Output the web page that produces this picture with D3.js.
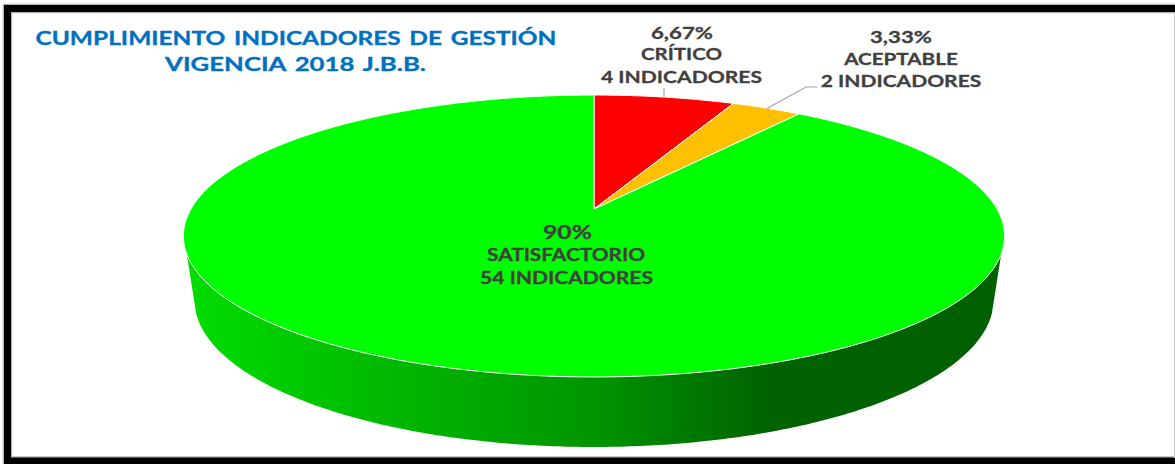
<!DOCTYPE html>
<html>
<head>
<meta charset="utf-8">
<script src="https://cdn.jsdelivr.net/npm/d3@7"></script>
<style>
  html, body { margin: 0; padding: 0; background: #fff; overflow: hidden; }
  text { font-family: Lato, "Open Sans", sans-serif; font-weight: 700; }
</style>
</head>
<body>
<svg id="chart" width="1175" height="464"></svg>
<script>
// Pie data, clockwise from 12 o'clock
const categories = ['CRÍTICO', 'ACEPTABLE', 'SATISFACTORIO'];
const indicators = [4, 2, 54];
const percentLabels = ['6,67%', '3,33%', '90%'];
const sliceColors = ['#ff0000', '#ffc000', '#00ff00'];
const titleLines = ['CUMPLIMIENTO INDICADORES DE GESTIÓN', 'VIGENCIA 2018 J.B.B.'];

const svg = d3.select('#chart');
svg.append('rect').attr('width', 1175).attr('height', 464).attr('fill', '#fff');

// ── Frame (no right side in the original) ──
const frame = d3.path();
frame.moveTo(1175, 8.5);
frame.lineTo(7.5, 8.5);
frame.lineTo(7.5, 461);
frame.lineTo(1175, 461);
svg.append('path').attr('d', frame.toString()).attr('fill', 'none')
  .attr('stroke', '#b5b5b5').attr('stroke-width', 9.5);
svg.append('path').attr('d', frame.toString()).attr('fill', 'none')
  .attr('stroke', '#000').attr('stroke-width', 7);
svg.append('line').attr('x1', 1174.5).attr('x2', 1174.5).attr('y1', 13).attr('y2', 458)
  .attr('stroke', '#cfcfcf');

// ── Perspective projection of the disc ──
const persp = -0.1915;
function project(theta, r, plane) {
  const u = Math.sin(theta) * r;
  const v = -Math.cos(theta) * r;
  const w = 1 + persp * v;
  return [594 + plane.sx * 403 * u / w, plane.y + plane.sy * 135.8 * v / w];
}
const topPlane = { sx: 1, sy: 1, y: 209 };
const basePlane = { sx: 0.973, sy: 1.0426, y: 271.85 };

function arcPoints(a0, a1, plane) {
  const n = Math.max(2, Math.ceil(Math.abs(a1 - a0) / 0.01));
  return d3.range(n + 1).map(i => project(a0 + (a1 - a0) * i / n, 1, plane));
}

const line = d3.line();
const deg = d3.scaleLinear().domain([0, 360]).range([0, 2 * Math.PI]);

// ── Side wall ──
const defs = svg.append('defs');
const grad = defs.append('linearGradient').attr('id', 'wall')
  .attr('gradientUnits', 'userSpaceOnUse')
  .attr('x1', 190).attr('x2', 1000).attr('y1', 0).attr('y2', 0);
[[0, '#00dc00'], [0.25, '#00b800'], [0.5, '#009400'], [0.72, '#006200'], [1, '#006000']]
  .forEach(([o, c]) => grad.append('stop').attr('offset', o).attr('stop-color', c));

const wallPts = [
  ...arcPoints(deg(108.2), deg(251.8), topPlane),
  ...arcPoints(deg(254), deg(106), basePlane)
];
svg.append('path').attr('d', line(wallPts) + 'Z').attr('fill', 'url(#wall)');

// ── Top slices ──
const pie = d3.pie().sort(null);
const arcs = pie(indicators);
svg.selectAll('.slice')
  .data(arcs)
  .enter()
  .append('path')
  .attr('class', 'slice')
  .attr('d', d => line([project(0, 0, topPlane), ...arcPoints(d.startAngle, d.endAngle, topPlane)]) + 'Z')
  .attr('fill', (d, i) => sliceColors[i])
  .attr('stroke', '#fff')
  .attr('stroke-width', 1)
  .attr('stroke-linejoin', 'round');

// ── Leader lines ──
const leaderRed = d3.path();
leaderRed.moveTo(664, 88); leaderRed.lineTo(664, 97);
const leaderOrange = d3.path();
leaderOrange.moveTo(767, 108.5); leaderOrange.lineTo(806, 87); leaderOrange.lineTo(817, 87);
[leaderRed, leaderOrange].forEach(p => svg.append('path').attr('d', p.toString())
  .attr('fill', 'none').attr('stroke', '#a6a6a6').attr('stroke-width', 1.2));

// ── Texts, fitted to the widths seen in the original ──
function put(str, cx, y, size, width, fill, wordGap = 0) {
  svg.append('text')
    .attr('x', cx).attr('y', y)
    .attr('text-anchor', 'middle')
    .attr('font-size', size)
    .attr('word-spacing', wordGap)
    .attr('textLength', width)
    .attr('lengthAdjust', 'spacingAndGlyphs')
    .attr('fill', fill)
    .attr('stroke', fill)
    .attr('stroke-width', 0.3)
    .text(str);
}
const blue = '#0070c0';
const grey = '#404040';
put(titleLines[0], 296, 45, 18.5, 521, blue, 2);
put(titleLines[1], 295.5, 71, 18.5, 261, blue, 2);

put(percentLabels[0], 682, 39, 17, 62, grey);
put(categories[0], 681.5, 60, 17, 81, grey);
put(`${indicators[0]} INDICADORES`, 681.5, 83, 17, 161, grey);

put(percentLabels[1], 901, 43, 17, 62, grey);
put(categories[1], 901, 65, 17, 113.5, grey);
put(`${indicators[1]} INDICADORES`, 901, 87, 17, 160.5, grey);

put(percentLabels[2], 567.5, 239, 19.5, 49, grey);
put(categories[2], 566, 261, 16.5, 158, grey);
put(`${indicators[2]} INDICADORES`, 566.5, 284, 16.5, 173, grey);
</script>
</body>
</html>
